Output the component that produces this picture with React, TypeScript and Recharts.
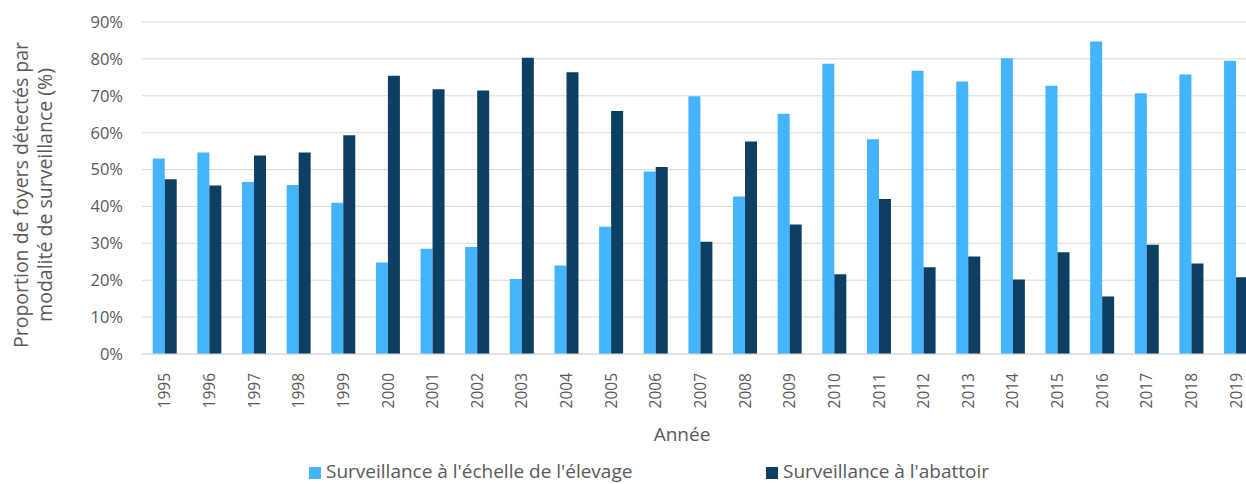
import React from 'react'
import { BarChart, Bar, XAxis, YAxis, CartesianGrid, Legend } from 'recharts'

const years = [
  '1995', '1996', '1997', '1998', '1999', '2000', '2001', '2002', '2003', '2004', '2005', '2006', '2007',
  '2008', '2009', '2010', '2011', '2012', '2013', '2014', '2015', '2016', '2017', '2018', '2019',
]
const elevage = [
  53.0, 54.6, 46.6, 45.8, 41.0, 24.8, 28.5, 29.0, 20.3, 24.0, 34.5, 49.5, 69.9,
  42.7, 65.1, 78.7, 58.2, 76.8, 73.9, 80.2, 72.7, 84.7, 70.7, 75.8, 79.5,
]
const abattoir = [
  47.4, 45.7, 53.8, 54.6, 59.3, 75.4, 71.8, 71.4, 80.3, 76.4, 65.9, 50.7, 30.4,
  57.6, 35.1, 21.6, 42.0, 23.5, 26.4, 20.2, 27.6, 15.6, 29.6, 24.5, 20.8,
]
const yTicks = [0, 10, 20, 30, 40, 50, 60, 70, 80, 90]

const seriesNames = {
  elevage: "Surveillance à l'échelle de l'élevage",
  abattoir: "Surveillance à l'abattoir",
}
const colors = { elevage: '#45B4FE', abattoir: '#0D3F62' }

const data = years.map((y, i) => ({ year: y, elevage: elevage[i], abattoir: abattoir[i] }))

const FONT = '"Open Sans", Lato, sans-serif'
const TEXT = '#595959'

function YearTick({ x, y, payload }: any) {
  return (
    <text
      x={x}
      y={y + 11}
      transform={`rotate(-90, ${x}, ${y + 11})`}
      textAnchor="end"
      dominantBaseline="central"
      fill={TEXT}
      fontSize={15.5}
      fontFamily={FONT}
    >
      {payload.value}
    </text>
  )
}

function YTitle({ viewBox }: any) {
  const cy = viewBox.y + viewBox.height / 2 + 7
  return (
    <g fill={TEXT} fontSize={19.5} fontFamily={FONT}>
      <text x={20} y={cy} transform={`rotate(-90, 20, ${cy})`} textAnchor="middle" dominantBaseline="central">
        Proportion de foyers détectés par
      </text>
      <text x={44} y={cy} transform={`rotate(-90, 44, ${cy})`} textAnchor="middle" dominantBaseline="central">
        modalité de surveillance (%)
      </text>
    </g>
  )
}

function LegendBox() {
  const item = (left: number, color: string, label: string) => (
    <div style={{ position: 'absolute', left, top: 6, display: 'flex', alignItems: 'center' }}>
      <span style={{ width: 12, height: 12, background: color, marginRight: 5, marginTop: 3 }} />
      <span style={{ fontSize: 19, color: TEXT, fontFamily: FONT, lineHeight: '22px' }}>{label}</span>
    </div>
  )
  return (
    <div style={{ position: 'relative', height: 30 }}>
      {item(309, colors.elevage, seriesNames.elevage)}
      {item(766, colors.abattoir, seriesNames.abattoir)}
    </div>
  )
}

export default function App() {
  return (
    <div style={{ position: 'absolute', left: 0, top: 0, width: 1246, height: 484, overflow: 'hidden', background: '#fff' }}>
      <BarChart
        width={1262}
        height={484}
        data={data}
        margin={{ top: 22, right: 4, left: 0, bottom: 0 }}
        barCategoryGap="24%"
        barGap={0}
      >
        <CartesianGrid vertical={false} stroke="#D9D9D9" />
        <XAxis
          dataKey="year"
          interval={0}
          height={100}
          tickLine={false}
          axisLine={{ stroke: '#D9D9D9' }}
          tick={<YearTick />}
          label={{ value: 'Année', position: 'insideBottom', offset: 13, dx: -18, fill: TEXT, fontSize: 19, fontFamily: FONT }}
        />
        <YAxis
          width={142}
          domain={[0, 90]}
          ticks={yTicks}
          interval={0}
          axisLine={false}
          tickLine={false}
          tickSize={0}
          tickMargin={19}
          tickFormatter={(v) => `${v}%`}
          tick={{ fill: TEXT, fontSize: 16.5, fontFamily: FONT }}
          label={<YTitle />}
        />
        <Legend verticalAlign="bottom" height={30} content={<LegendBox />} wrapperStyle={{ left: 0, width: 1262 }} />
        <Bar dataKey="elevage" name={seriesNames.elevage} fill={colors.elevage} isAnimationActive={false} />
        <Bar dataKey="abattoir" name={seriesNames.abattoir} fill={colors.abattoir} isAnimationActive={false} />
      </BarChart>
    </div>
  )
}
